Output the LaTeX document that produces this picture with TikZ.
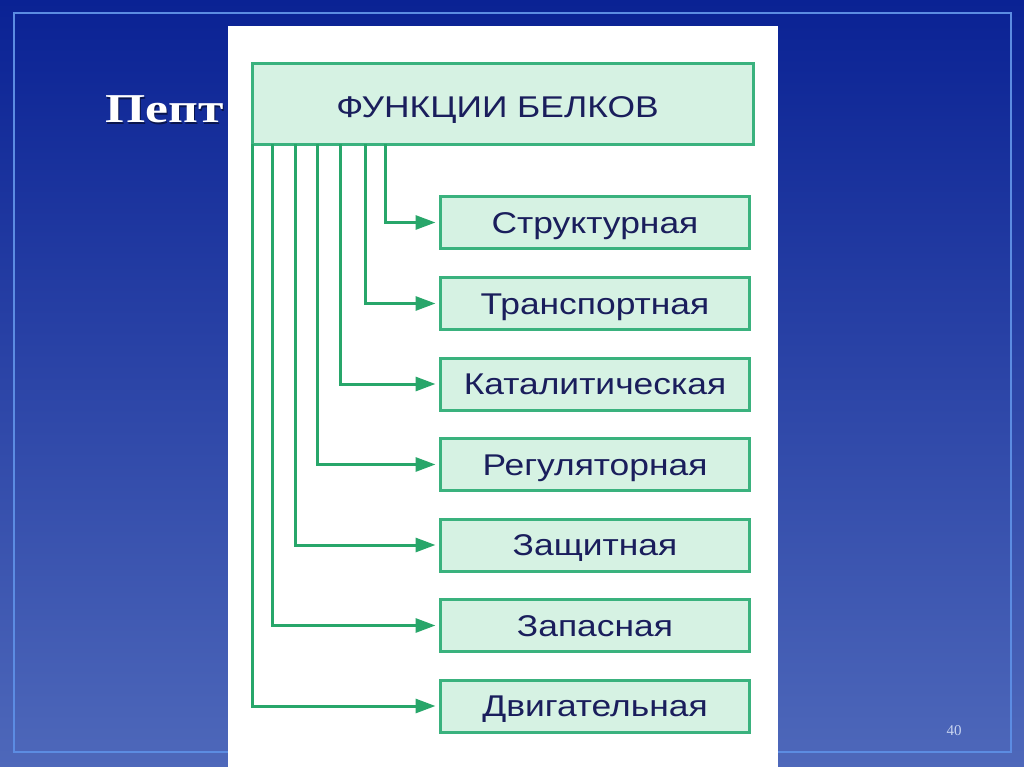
\documentclass[tikz,border=0pt]{standalone}
\usepackage{fontspec}
\setmainfont{Liberation Sans}
\newfontfamily\boxfont[FakeStretch=1.18]{Liberation Sans}
\newfontfamily\titlefont[FakeStretch=1.26]{Liberation Serif}
\newfontfamily\pagefont{Liberation Serif}
\usetikzlibrary{arrows.meta}
\definecolor{bgtop}{RGB}{10,34,148}
\definecolor{bgmid}{RGB}{22,54,164}
\definecolor{bgbot}{RGB}{78,104,186}
\definecolor{frameblue}{RGB}{92,140,226}
\definecolor{gline}{RGB}{40,166,106}
\definecolor{gborder}{RGB}{58,178,126}
\definecolor{gfill}{RGB}{214,242,227}
\definecolor{navy}{RGB}{26,30,92}
\definecolor{pagenum}{RGB}{200,212,240}
\begin{document}
\begin{tikzpicture}[x=1pt,y=-1pt,
  fbox/.style={draw=gborder, line width=3pt, fill=gfill, outer sep=0pt, inner sep=0pt,
    minimum width=309pt, minimum height=52pt, text=navy,
    text height=21.5pt, text depth=0pt,
    font=\boxfont\fontsize{30}{30}\selectfont},
  conn/.style={draw=gline, line width=3pt, -{Triangle[length=20pt,width=14pt]}, shorten >=5pt}]
\useasboundingbox (0,0) rectangle (1024,767);
% slide background
\fill[top color=bgtop, middle color=bgmid, bottom color=bgbot] (0,0) rectangle (1024,767);
\draw[frameblue, line width=1.5pt] (14,13) rectangle (1011,752);
% title
\node[anchor=base west, text=black, opacity=0.5, inner sep=0pt, font=\titlefont\bfseries\fontsize{41}{41}\selectfont] (titleshadow) at (106.5,124.5) {Пепт};
\node[anchor=base west, text=white, inner sep=0pt, font=\titlefont\bfseries\fontsize{41}{41}\selectfont] (title) at (105,123) {Пепт};
% page number
\node[text=pagenum, font=\pagefont\fontsize{15}{15}\selectfont] (pg) at (954,731) {40};
% white panel
\node[fill=white, draw=none, anchor=north west, inner sep=0pt, outer sep=0pt,
  minimum width=550pt, minimum height=741pt] (panel) at (228,26) {};
% header
\node[fbox, anchor=north west, minimum width=501pt, minimum height=81pt,
  text height=26.5pt] (h) at (252.5,63.5) {\hspace*{-11pt}ФУНКЦИИ БЕЛКОВ};
% function boxes
\node[fbox] (b1) at (595,222.5) {Структурная};
\node[fbox] (b2) at (595,303.5) {Транспортная};
\node[fbox] (b3) at (595,384) {Каталитическая};
\node[fbox] (b4) at (595,464.5) {Регуляторная};
\node[fbox] (b5) at (595,545) {Защитная};
\node[fbox] (b6) at (595,625.5) {Запасная};
\node[fbox] (b7) at (595,706) {Двигательная};
% connectors
\draw[conn] ([xshift=132.5pt]h.south west) |- (b1.west);
\draw[conn] ([xshift=112.5pt]h.south west) |- (b2.west);
\draw[conn] ([xshift=88pt]h.south west) |- (b3.west);
\draw[conn] ([xshift=64.5pt]h.south west) |- (b4.west);
\draw[conn] ([xshift=42.5pt]h.south west) |- (b5.west);
\draw[conn] ([xshift=19.5pt]h.south west) |- (b6.west);
\draw[conn] ([xshift=0pt]h.south west) |- (b7.west);
\end{tikzpicture}
\end{document}
